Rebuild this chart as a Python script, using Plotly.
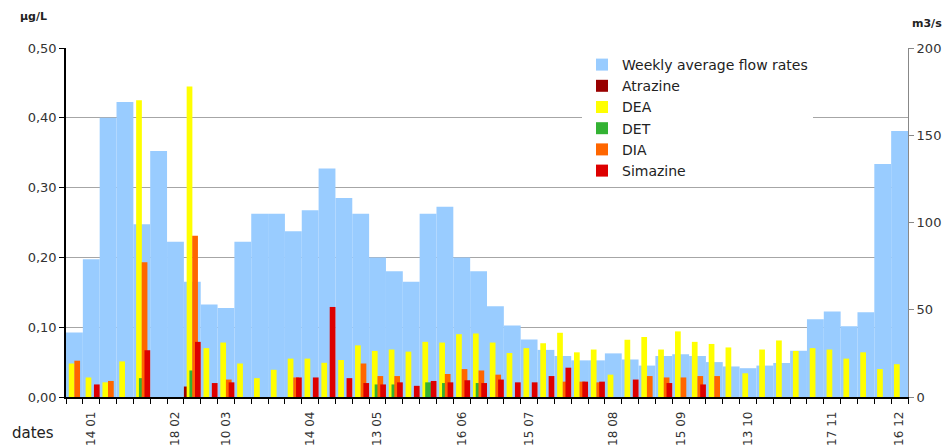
import plotly.graph_objects as go

N = None

# ---- data ----
weeks = list(range(50))

flow = [37, 79, 160, 169, 99, 141, 89, 66, 53, 51,
        89, 105, 105, 95, 107, 131, 114, 105, 80, 72,
        66, 105, 109, 80, 72, 52, 41, 33, 27, 23.5,
        21, 21, 25, 21.5, 18, 23.5, 24.5, 23.5, 20, 17.5,
        16.5, 18, 19.5, 26.5, 44.5, 49, 40.5, 48.5, 133.5, 152.5]

atrazine = [N, N, N, N, N, N, N, 0.015, N, N,
            N, N, N, N, N, N, N, N, N, N,
            N, N, N, N, N, N, N, N, N, N,
            N, N, N, N, N, N, N, N, N, N,
            N, N, N, N, N, N, N, N, N, N]

dea = [0.048, 0.028, 0.021, 0.051, 0.425, N, N, 0.445, 0.070, 0.078,
       0.048, 0.027, 0.039, 0.055, 0.055, 0.049, 0.053, 0.074, 0.066, 0.068,
       0.065, 0.079, 0.078, 0.090, 0.091, 0.078, 0.063, 0.070, 0.077, 0.092,
       0.064, 0.068, 0.032, 0.082, 0.086, 0.068, 0.094, 0.079, 0.076, 0.071,
       0.034, 0.068, 0.081, 0.066, 0.070, 0.068, 0.055, 0.064, 0.040, 0.047]

det = [N, N, N, N, 0.027, N, N, 0.038, N, N,
       N, N, N, N, N, N, N, N, 0.018, 0.018,
       N, 0.021, 0.020, N, 0.020, N, N, N, N, N,
       N, N, N, N, N, N, N, N, N, N,
       N, N, N, N, N, N, N, N, N, N]

dia = [0.052, N, 0.023, N, 0.193, N, N, 0.231, N, 0.025,
       N, N, N, 0.028, N, N, N, 0.048, 0.030, 0.030,
       N, N, 0.033, 0.040, 0.038, 0.032, N, N, N, 0.022,
       0.022, 0.021, N, N, 0.030, 0.028, 0.028, 0.030, 0.030, N,
       N, N, N, N, N, N, N, N, N, N]

simazine = [N, 0.018, N, N, 0.067, N, N, 0.079, 0.020, 0.021,
            N, N, N, 0.028, 0.028, 0.129, 0.027, 0.020, 0.018, 0.021,
            0.016, 0.023, 0.021, 0.024, 0.020, 0.025, 0.021, 0.021, 0.030, 0.042,
            0.022, 0.022, N, 0.025, N, 0.020, N, 0.018, N, N,
            N, N, N, N, N, N, N, N, N, N]

label_weeks = [1, 6, 9, 14, 18, 23, 27, 32, 36, 40, 45, 49]
label_text = ["14 01", "18 02", "10 03", "14 04", "13 05", "16 06",
              "15 07", "18 08", "15 09", "13 10", "17 11", "16 12"]

conc_ticks = [0, 0.1, 0.2, 0.3, 0.4, 0.5]
conc_labels = ["0,00", "0,10", "0,20", "0,30", "0,40", "0,50"]
flow_ticks = [0, 50, 100, 150, 200]

# ---- figure ----
W, H = 947, 445
PL, PR, PT, PB = 66, 908, 48, 397          # plot area in pixels
ML, MT, MR, MB = PL, PT, W - PR, H - PB
PW, PH = PR - PL, PB - PT


def px(xw):
    return (xw - PL) / PW


def py(yw):
    return (PB - yw) / PH


fig = go.Figure()
fig.add_trace(go.Bar(x=weeks, y=flow, name="Weekly average flow rates",
                     marker=dict(color="#99CCFF", line=dict(width=0)),
                     width=1.0, yaxis="y"))

bw = 0.34
step = 0.165
series = [("Atrazine", atrazine, "#990000"),
          ("DEA", dea, "#FFFF00"),
          ("DET", det, "#33B233"),
          ("DIA", dia, "#FF6600"),
          ("Simazine", simazine, "#DD0000")]
for k, (name, vals, col) in enumerate(series):
    fig.add_trace(go.Bar(x=weeks, y=vals, name=name,
                         marker=dict(color=col, line=dict(width=0)),
                         width=bw, offset=-0.5 + k * step, yaxis="y2"))

fig.update_layout(
    width=W, height=H, autosize=False,
    margin=dict(l=ML, r=MR, t=MT, b=MB, pad=0, autoexpand=False),
    barmode="overlay",
    plot_bgcolor="white", paper_bgcolor="white",
    font=dict(family="DejaVu Sans", color="#333333", size=13),
    showlegend=True,
    legend=dict(x=px(582), y=py(49), xanchor="left", yanchor="top",
                bgcolor="white", borderwidth=0,
                font=dict(size=14, color="#222222"),
                itemwidth=30),
    xaxis=dict(range=[-0.5, 49.5], tickmode="array", tickvals=label_weeks,
               ticktext=label_text, tickangle=-90, ticks="",
               ticklabelstandoff=8, automargin=False,
               tickfont=dict(size=12, color="#333333"),
               showline=True, linecolor="black", linewidth=1.5,
               showgrid=False, zeroline=False, fixedrange=True,
               minor=dict(tickmode="array",
                          tickvals=[w - 0.5 for w in weeks] + [49.5],
                          ticks="outside", ticklen=5, tickcolor="black",
                          tickwidth=1, showgrid=False)),
    yaxis=dict(range=[0, 200], side="right", tickvals=flow_ticks,
               ticks="outside", ticklen=5, tickcolor="#888888",
               showline=True, linecolor="#888888", linewidth=1,
               showgrid=False, zeroline=False, automargin=False,
               tickfont=dict(size=13, color="#333333")),
    yaxis2=dict(range=[0, 0.5], overlaying="y", side="left",
                tickvals=conc_ticks, ticktext=conc_labels,
                ticks="outside", ticklen=5, tickcolor="black",
                showline=True, linecolor="black", linewidth=1.5,
                showgrid=True, gridcolor="#A6A6A6", gridwidth=1,
                zeroline=False, automargin=False,
                tickfont=dict(size=13, color="#333333")),
    annotations=[
        dict(text="<b>µg/L</b>", x=px(18), y=py(17), xref="paper", yref="paper",
             xanchor="left", yanchor="middle", showarrow=False,
             font=dict(size=11, color="#222222")),
        dict(text="<b>m3/s</b>", x=px(910), y=py(24), xref="paper", yref="paper",
             xanchor="left", yanchor="middle", showarrow=False,
             font=dict(size=11, color="#222222")),
        dict(text="dates", x=px(10), y=py(433), xref="paper", yref="paper",
             xanchor="left", yanchor="middle", showarrow=False,
             font=dict(size=15, color="#222222")),
    ],
)

fig.write_html("out.html",
               config={"displayModeBar": False, "responsive": False},
               post_script="document.body.style.margin='0';"
                           "document.body.style.overflow='hidden';")
